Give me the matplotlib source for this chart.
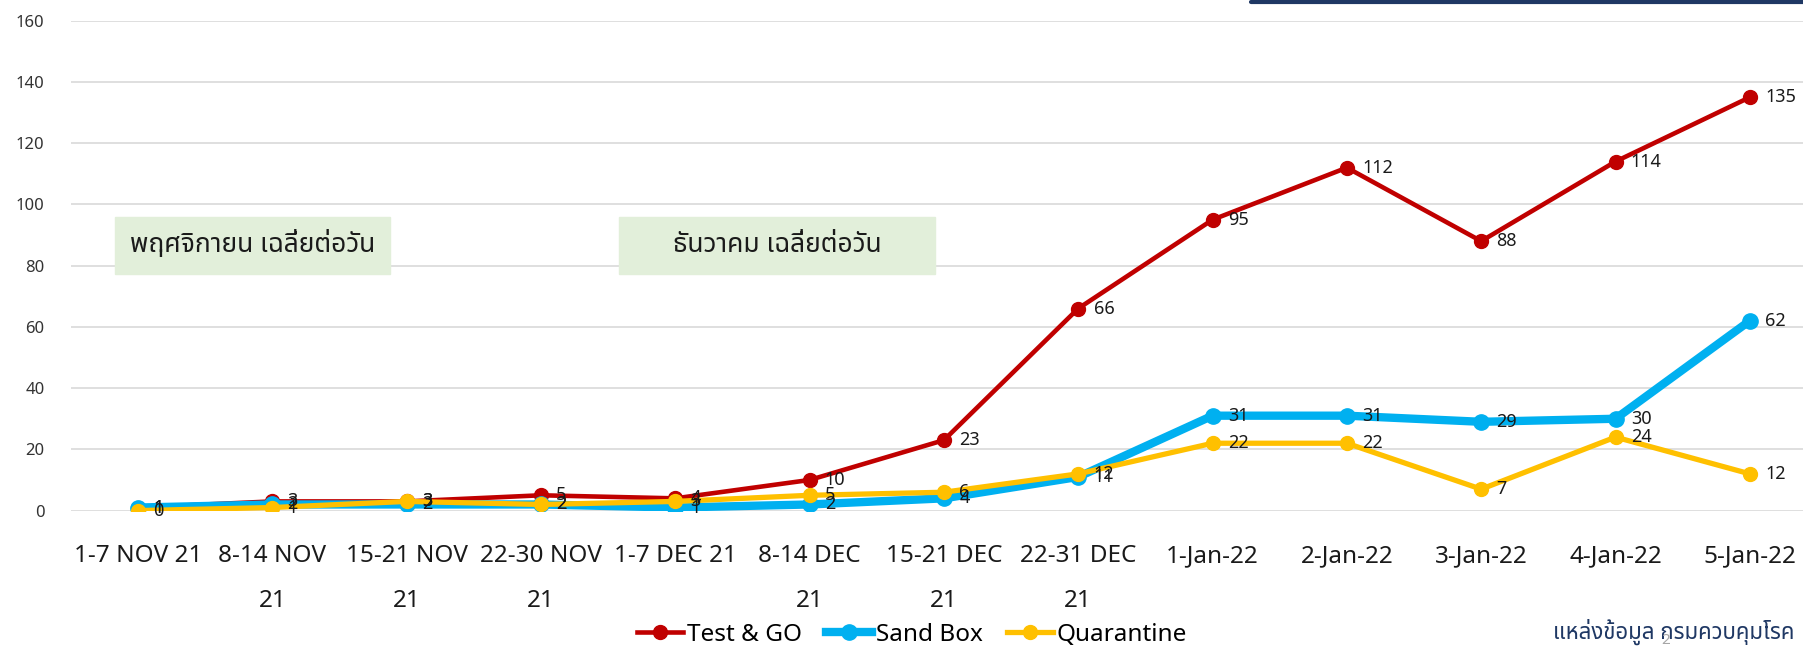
import matplotlib
matplotlib.use("Agg")
import matplotlib.pyplot as plt
from matplotlib import font_manager
from matplotlib.patches import Rectangle
from matplotlib.lines import Line2D

categories = ["1-7 NOV 21", "8-14 NOV\n21", "15-21 NOV\n21", "22-30 NOV\n21",
              "1-7 DEC 21", "8-14 DEC\n21", "15-21 DEC\n21", "22-31 DEC\n21",
              "1-Jan-22", "2-Jan-22", "3-Jan-22", "4-Jan-22", "5-Jan-22"]
test_go = [1, 3, 3, 5, 4, 10, 23, 66, 95, 112, 88, 114, 135]
sand_box = [1, 2, 2, 2, 1, 2, 4, 11, 31, 31, 29, 30, 62]
quarantine = [0, 1, 3, 2, 3, 5, 6, 12, 22, 22, 7, 24, 12]
yticks = [0, 20, 40, 60, 80, 100, 120, 140, 160]

# pick an installed font that has Thai glyphs
available = set(f.name for f in font_manager.fontManager.ttflist)
thai_font = next((f for f in ["Noto Sans Thai", "Sarabun", "Loma", "FreeSerif"]
                  if f in available), "DejaVu Sans")
fonts = ["Noto Sans", thai_font, "DejaVu Sans"]
plt.rcParams['font.family'] = fonts

W, H = 1803, 649
fig = plt.figure(figsize=(W / 100, H / 100), dpi=100)
ax = fig.add_axes([70.8 / W, 1 - 510.6 / H, (1817 - 70.8) / W, (510.6 - 20.7) / H])

x = list(range(len(categories)))
series = [
    ("Test & GO", test_go, "#C00000", 3.3, 10),
    ("Sand Box", sand_box, "#00B0F0", 6.0, 11),
    ("Quarantine", quarantine, "#FFC000", 3.8, 10),
]
handles = []
for name, vals, color, lw, ms in series:
    ax.plot(x, vals, color=color, lw=lw, marker="o", ms=ms,
            solid_capstyle="round", zorder=3)
    handles.append(Line2D([], [], color=color, lw=lw, marker="o", ms=ms))

for name, vals, color, lw, ms in series:
    for xi, v in zip(x, vals):
        ax.annotate(str(v), (xi, v), xytext=(11, 0), textcoords="offset points",
                    ha="left", va="center", fontsize=13, color="#1a1a1a",
                    zorder=5)

ax.set_xlim(-0.5, len(categories) - 0.5)
ax.set_ylim(0, 160)
ax.set_yticks(yticks)
ax.set_xticks(x)
ax.set_xticklabels(categories, fontsize=17.5, linespacing=2.15, color="#1a1a1a")
ax.tick_params(axis="y", labelsize=12, pad=19, length=0, labelcolor="#333333")
ax.tick_params(axis="x", pad=24, length=0)
ax.grid(axis="y", color="#D9D9D9", lw=1.2)
ax.set_axisbelow(True)
for s in ax.spines.values():
    s.set_visible(False)

# month annotation boxes
for (x0, x1, label) in [(115, 390, "พฤศจิกายน เฉลี่ยต่อวัน"),
                        (619, 935, "ธันวาคม เฉลี่ยต่อวัน")]:
    fig.patches.append(Rectangle((x0 / W, 1 - 274 / H), (x1 - x0) / W, 57 / H,
                                 transform=fig.transFigure, color="#E2EFDA",
                                 zorder=2))
    fig.text((x0 + x1) / 2 / W, 1 - 245 / H, label, ha="center", va="center",
             fontsize=19, family=[thai_font, "DejaVu Sans"], color="#1a1a1a",
             zorder=4)

fig.legend(handles, [s[0] for s in series], loc="center",
           bbox_to_anchor=(912 / W, 1 - 635 / H), ncol=3, frameon=False,
           fontsize=17.5, handlelength=1.9, handletextpad=0.15, columnspacing=1.0,
           borderpad=0.1)

fig.text(1794 / W, 1 - 632 / H, "แหล่งข้อมูล กรมควบคุมโรค", ha="right",
         va="center", fontsize=16, color="#1F3864",
         family=[thai_font, "DejaVu Sans"])
fig.text(1666 / W, 1 - 641 / H, "2", ha="center", va="center", fontsize=11,
         color="#A6A6A6")

# navy rule at the top right
fig.add_artist(Line2D([1251 / W, 1], [1 - 1.5 / H, 1 - 1.5 / H],
                      transform=fig.transFigure, color="#1F3864", lw=3,
                      solid_capstyle="round"))

fig.savefig("out.png", dpi=100)
